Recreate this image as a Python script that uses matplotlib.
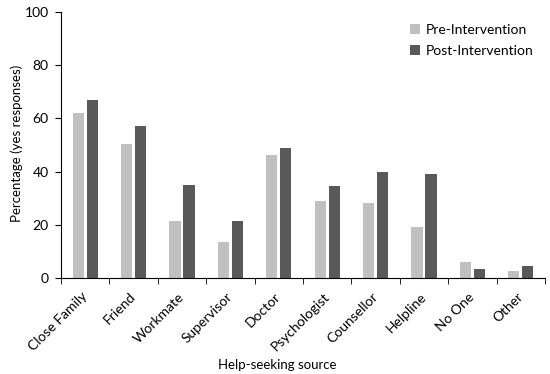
import matplotlib
matplotlib.use("Agg")
import matplotlib.pyplot as plt
import numpy as np

categories = ["Close Family", "Friend", "Workmate", "Supervisor", "Doctor",
              "Psychologist", "Counsellor", "Helpline", "No One", "Other"]
pre = [61.9, 50.3, 21.5, 13.6, 46.1, 28.8, 28.3, 19.1, 6.1, 2.5]
post = [66.9, 57.1, 35.1, 21.3, 48.9, 34.6, 40.0, 39.0, 3.3, 4.4]

plt.rcParams['font.family'] = ['Lato', 'DejaVu Sans']

fig = plt.figure(figsize=(5.5, 3.74), dpi=100)
ax = fig.add_axes([61/550, (374-278)/374, (545-61)/550, (278-12)/374])

x = np.arange(len(categories))
w = 0.234
ax.bar(x - 0.145, pre, width=w, color="#c0c0c0", label="Pre-Intervention")
ax.bar(x + 0.145, post, width=w, color="#595959", label="Post-Intervention")

ax.set_xlim(-0.5, len(categories) - 0.5)
ax.set_ylim(0, 100)
ax.set_yticks([0, 20, 40, 60, 80, 100])
ax.set_xticks(x)
ax.set_xticklabels(categories, rotation=45, ha="right", va="center",
                   rotation_mode="anchor", fontsize=10)
ax.tick_params(axis="x", which="major", length=0, pad=12)
ax.set_xticks(np.arange(-0.5, len(categories), 1), minor=True)
ax.tick_params(axis="x", which="minor", length=4, direction="out")
ax.tick_params(axis="y", labelsize=10, length=4, direction="out", pad=5)
for s in ["top", "right"]:
    ax.spines[s].set_visible(False)
fig.text(277/550, 1 - 365/374, "Help-seeking source", fontsize=9.5,
         ha="center", va="center")
fig.text(17/550, 1 - 143/374, "Percentage (yes responses)", fontsize=9.5,
         ha="center", va="center", rotation=90)
leg = ax.legend(loc="upper left", bbox_to_anchor=(410/550, 1 - 24/374),
                bbox_transform=fig.transFigure, frameon=False, fontsize=10,
                handlelength=0.7, handleheight=0.7, handletextpad=0.4,
                labelspacing=0.65, borderpad=0, borderaxespad=0)

fig.savefig("out.png", dpi=100)
